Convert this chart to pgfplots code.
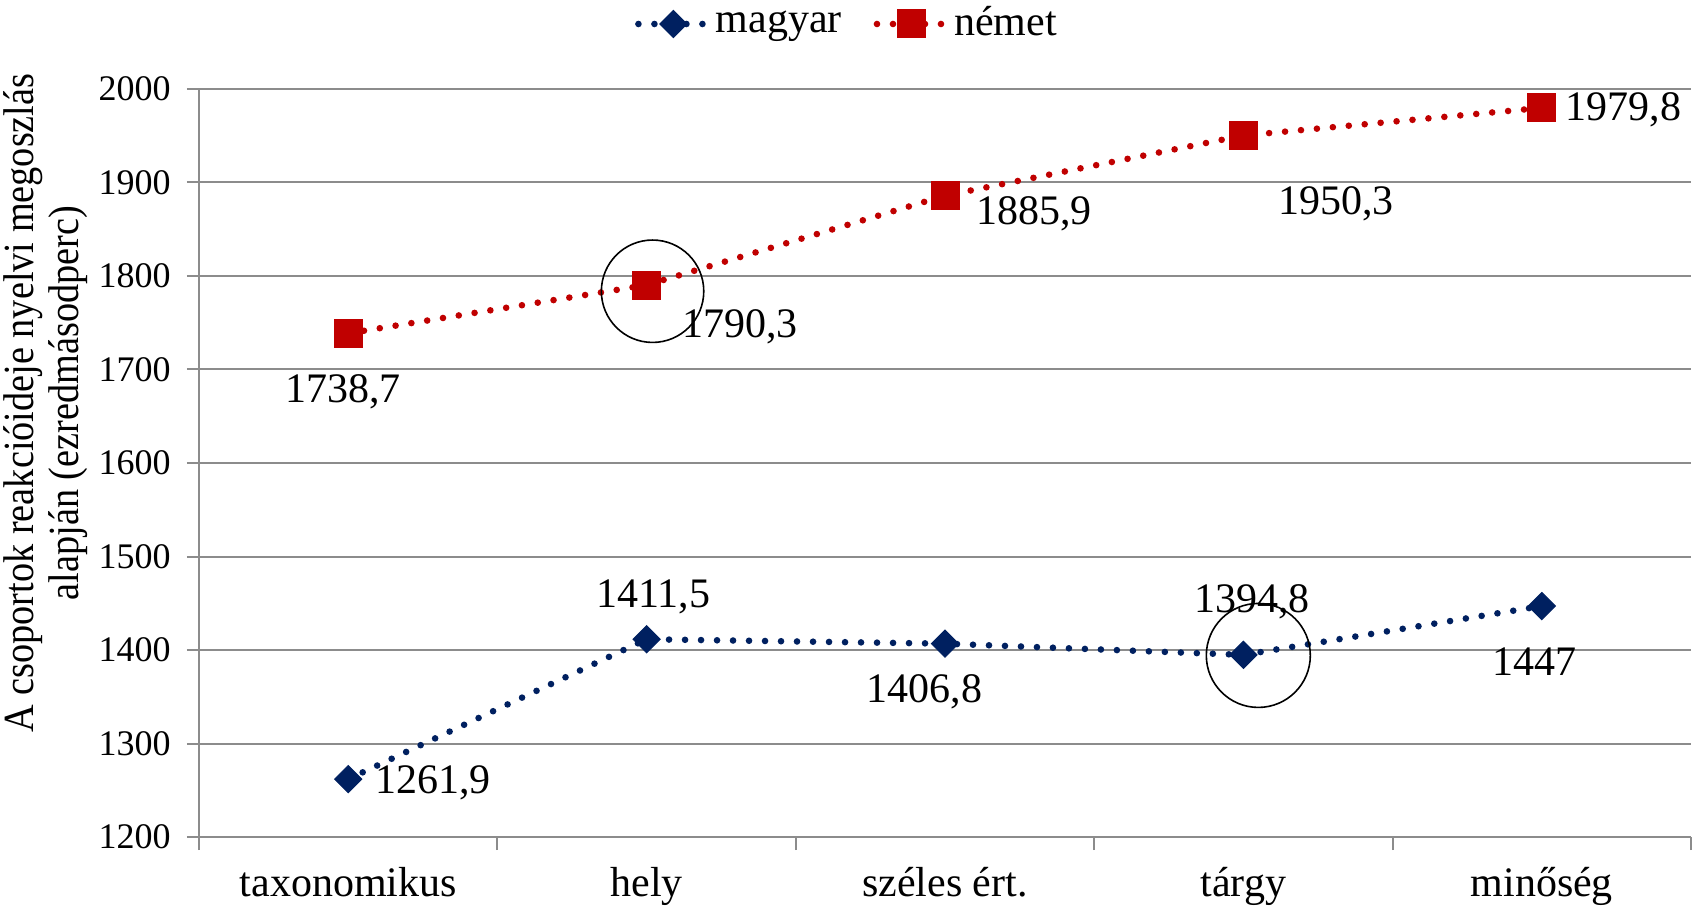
\documentclass[border=0pt]{standalone}
\usepackage{fontspec}
\setmainfont{Liberation Serif}
\usepackage{pgfplots}
\usepackage{pgfplotstable}
\pgfplotsset{compat=1.18}
\definecolor{hun}{RGB}{0,32,96}
\definecolor{ger}{RGB}{192,0,0}
\definecolor{gridc}{RGB}{140,140,140}
\newcommand{\labfont}{\fontsize{21}{22.5}\selectfont}

% x y label dx dy (offset of the value label in pt)
\pgfplotstableread{
x y lab dx dy
0 1261.9 1261,9 42.4 -1.6
1 1411.5 1411,5 3.3 21.2
2 1406.8 1406,8 -10.3 -23.9
3 1394.8 1394,8 4.3 26.6
4 1447 1447 -3.8 -27.7
}\magyar
\pgfplotstableread{
x y lab dx dy
0 1738.7 1738,7 -2.7 -29.4
1 1790.3 1790,3 46.8 -20.7
2 1885.9 1885,9 44.6 -9.2
3 1950.3 1950,3 46.2 -34.3
4 1979.8 1979,8 40.8 -1.1
}\nemet

\begin{document}
\fontsize{18}{21}\selectfont
\begin{tikzpicture}
\begin{axis}[
    scale only axis,
    width=746pt, height=374pt,
    xmin=-0.5, xmax=4.5,
    ymin=1200, ymax=2000,
    ytick={1200,1300,...,2000},
    xtick={0,1,2,3,4},
    xticklabels={taxonomikus,hely,széles ért.,tárgy,minőség},
    minor xtick={-0.5,0.5,1.5,2.5,3.5,4.5},
    major x tick style={draw=none},
    tick align=outside,
    minor tick length=6.5pt,
    major tick length=6pt,
    tick style={gridc, line width=1pt},
    xtick pos=bottom, ytick pos=left,
    axis line style={gridc, line width=1pt},
    axis x line*=bottom, axis y line*=left,
    ymajorgrids,
    grid style={gridc, line width=1pt},
    /pgf/number format/assume math mode=true,
    /pgf/number format/1000 sep={},
    yticklabel style={font=\fontsize{18}{21}\selectfont, xshift=-2pt},
    xticklabel style={font=\labfont, yshift=-3pt},
    ylabel={\scalebox{0.89}[1]{\begin{tabular}{@{}c@{}}A csoportok reakcióideje nyelvi megoszlás\\alapján (ezredmásodperc)\end{tabular}}},
    ylabel style={font=\fontsize{21.5}{22.5}\selectfont, xshift=30pt, yshift=-9pt},
    clip=false,
    legend style={draw=none, at={(0.435,1)}, anchor=center, yshift=32.5pt,
        legend columns=2, font=\labfont,
        /tikz/every even column/.append style={column sep=14pt}},
    legend image code/.code={
        \draw[mark repeat=2, mark phase=2]
        plot coordinates {(0pt,0pt) (17.5pt,0pt) (35pt,0pt)};},
    nodes near coords,
    point meta=explicit symbolic,
    visualization depends on={\thisrow{dx} \as \dx},
    visualization depends on={\thisrow{dy} \as \dy},
    every node near coord/.append style={anchor=center, xshift=\dx pt, yshift=\dy pt,
        text=black, font=\labfont},
]
\addplot[hun, line width=3.3pt, line cap=round, dash pattern=on 0pt off 8pt,
    mark=square*, mark size=4.8pt, mark options={solid, rotate=45, fill=hun, draw=hun, line width=0.5pt}]
    table[x=x, y=y, meta=lab] {\magyar};
\addplot[ger, line width=3.3pt, line cap=round, dash pattern=on 0pt off 8pt,
    mark=square*, mark size=7pt, mark options={solid, fill=ger, draw=ger, line width=0.5pt}]
    table[x=x, y=y, meta=lab] {\nemet};
\legend{magyar,német}
\draw[black, line width=0.8pt] (axis cs:1.02,1783.7) circle[radius=25.6pt];
\draw[black, line width=0.8pt] (axis cs:3.05,1394.2) circle[radius=26pt];
\end{axis}
\pgfresetboundingbox
\path[use as bounding box] ([shift={(-99.5pt,-36.5pt)}]current axis.south west)
    rectangle ([shift={(7pt,44.5pt)}]current axis.north east);
\end{tikzpicture}
\end{document}
